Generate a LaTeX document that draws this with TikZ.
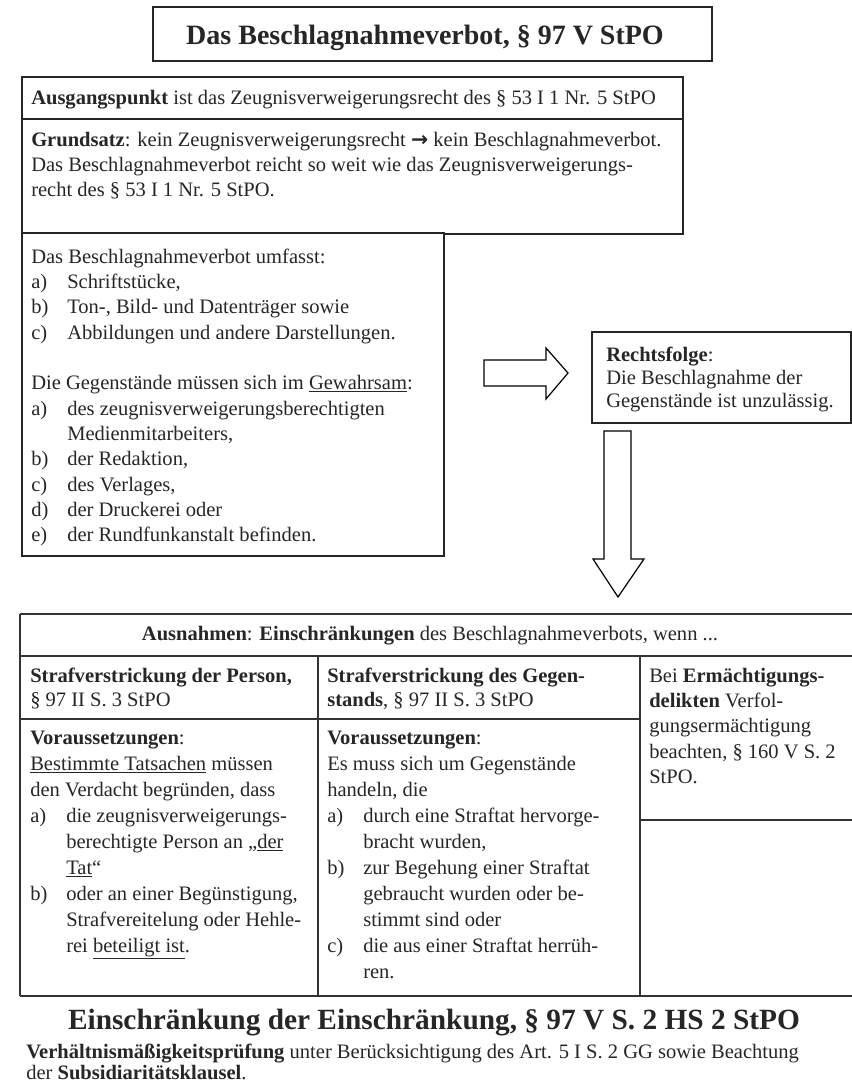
\documentclass[tikz,border=0pt]{standalone}
\usepackage{fontspec}
\setmainfont{Liberation Serif}
\newfontfamily\dejavu{DejaVu Sans}
\newcommand\lab[1]{\makebox[27pt][l]{#1}}
\newcommand\ind{\hspace*{27pt}}
\newcommand\tb[3]{\parbox[t]{#1}{\fontsize{15.4}{#2}\selectfont #3}}
\begin{document}
\begin{tikzpicture}[x=0.75pt,y=-0.75pt,
  frame/.style={draw=black!85,line width=1.1pt},
  tline/.style={draw=black!80,line width=1.3pt},
  bodytext/.style={anchor=base west,inner sep=0pt,text=black!85},
  blockarrow/.style={draw=black,line width=0.9pt,fill=white,line join=miter}]
\useasboundingbox (0,0) rectangle (852,1092);
\fill[white] (0,0) rectangle (852,1092);

% title
\draw[frame,line width=1.3pt] (153,7) rectangle (712,61);
\node[anchor=base,text=black!85,inner sep=0pt,font=\fontsize{21}{25}\selectfont\bfseries] (title) at (425,44) {Das Beschlagnahmeverbot, § 97 V StPO};

% boxes A, B, C
\draw[frame] (22,77) rectangle (683,119);
\draw[frame] (22,119) rectangle (683,234);
\draw[frame,fill=white] (22,233) rectangle (444,556);

\node[bodytext] (ausg) at (31,104) {\fontsize{15.4}{18}\selectfont\textbf{Ausgangspunkt} ist das Zeugnisverweigerungsrecht des § 53 I 1 Nr. 5 StPO};

\node[bodytext] (grund) at (31,146) {\tb{500pt}{18.75pt}{\textbf{Grundsatz}: kein Zeugnisverweigerungsrecht {\dejavu\bfseries →} kein Beschlagnahmeverbot.\\
Das Beschlagnahmeverbot reicht so weit wie das Zeugnisverweigerungs-\\
recht des § 53 I 1 Nr. 5 StPO.}};

\node[bodytext] (umfasst) at (31,263) {\tb{330pt}{19pt}{Das Beschlagnahmeverbot umfasst:\\
\lab{a)}Schriftstücke,\\
\lab{b)}Ton-, Bild- und Datenträger sowie\\
\lab{c)}Abbildungen und andere Darstellungen.\\
\mbox{}\\
Die Gegenstände müssen sich im \underline{Gewahrsam}:\\
\lab{a)}des zeugnisverweigerungsberechtigten\\
\ind Medienmitarbeiters,\\
\lab{b)}der Redaktion,\\
\lab{c)}des Verlages,\\
\lab{d)}der Druckerei oder\\
\lab{e)}der Rundfunkanstalt befinden.}};

% right block arrow
\draw[blockarrow] (484,360) -- (546,360) -- (546,348) -- (568,373) -- (546,399) -- (546,386) -- (484,386) -- cycle;

% Rechtsfolge
\draw[frame] (592,332) rectangle (851,423);
\node[bodytext] (rf) at (606,361) {\tb{200pt}{17.6pt}{\textbf{Rechtsfolge}:\\
Die Beschlagnahme der\\
Gegenstände ist unzulässig.}};

% down block arrow
\draw[blockarrow] (604,431) -- (631,431) -- (631,559) -- (644,559) -- (618,597) -- (593,559) -- (604,559) -- cycle;

% table
\draw[tline] (20,614) -- (852,614);
\draw[tline] (20,656) -- (852,656);
\draw[tline] (20,719) -- (640,719);
\draw[tline] (640,820) -- (852,820);
\draw[tline] (20,996) -- (852,996);
\draw[tline] (20,614) -- (20,996);
\draw[tline] (318,656) -- (318,996);
\draw[tline] (640,656) -- (640,996);

\node[anchor=base,inner sep=0pt,text=black!85,font=\fontsize{15.4}{18}\selectfont] (ausn) at (430,640) {\textbf{Ausnahmen}: \textbf{Einschränkungen} des Beschlagnahmeverbots, wenn ...};

\node[bodytext] (personhead) at (30,682) {\tb{220pt}{18.5pt}{\textbf{Strafverstrickung der Person,}\\
§ 97 II S. 3 StPO}};
\node[bodytext] (gegenhead) at (327,682) {\tb{230pt}{18.5pt}{\textbf{Strafverstrickung des Gegen-}\\
\textbf{stands}, § 97 II S. 3 StPO}};
\node[bodytext] (ermaecht) at (649,682) {\tb{160pt}{19pt}{Bei \textbf{Ermächtigungs-}\\
\textbf{delikten} Verfol-\\
gungsermächtigung\\
beachten, § 160 V S. 2\\
StPO.}};

\node[bodytext] (vor1) at (30,744) {\tb{220pt}{19.5pt}{\textbf{Voraussetzungen}:\\
\underline{Bestimmte Tatsachen} müssen\\
den Verdacht begründen, dass\\
\lab{a)}die zeugnisverweigerungs-\\
\ind berechtigte Person an „\underline{der}\\
\ind\underline{Tat}“\\
\lab{b)}oder an einer Begünstigung,\\
\ind Strafvereitelung oder Hehle-\\
\ind rei \underline{beteiligt ist}.}};

\node[bodytext] (vor2) at (327,744) {\tb{230pt}{19.5pt}{\textbf{Voraussetzungen}:\\
Es muss sich um Gegenstände\\
handeln, die\\
\lab{a)}durch eine Straftat hervorge-\\
\ind bracht wurden,\\
\lab{b)}zur Begehung einer Straftat\\
\ind gebraucht wurden oder be-\\
\ind stimmt sind oder\\
\lab{c)}die aus einer Straftat herrüh-\\
\ind ren.}};

\node[anchor=base,inner sep=0pt,text=black!85,font=\fontsize{22}{26}\selectfont\bfseries] (einschr) at (434,1029) {Einschränkung der Einschränkung, § 97 V S. 2 HS 2 StPO};

\node[bodytext] (verh) at (26,1058) {\tb{620pt}{15.75pt}{\textbf{Verhältnismäßigkeitsprüfung} unter Berücksichtigung des Art. 5 I S. 2 GG sowie Beachtung\\
der \textbf{Subsidiaritätsklausel}.}};
\end{tikzpicture}
\end{document}
